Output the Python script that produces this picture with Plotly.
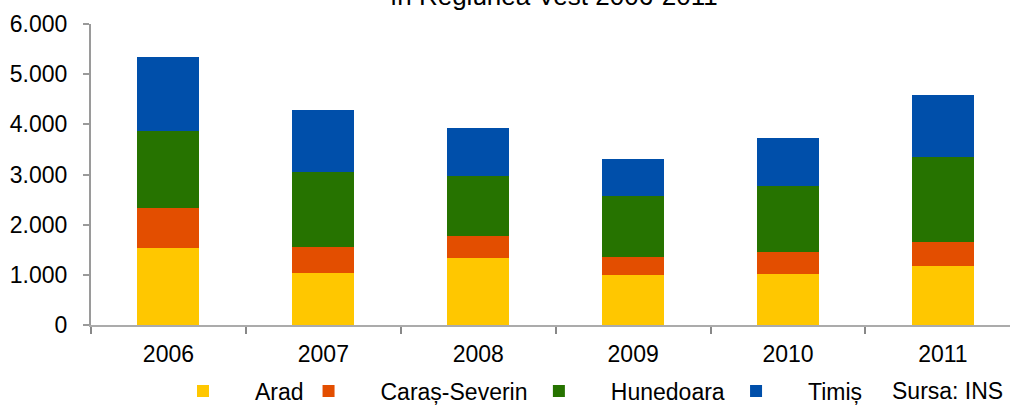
import plotly.graph_objects as go

years = ["2006", "2007", "2008", "2009", "2010", "2011"]
arad = [1530, 1035, 1330, 1000, 1010, 1170]
caras = [800, 520, 445, 355, 440, 490]
hunedoara = [1535, 1495, 1195, 1225, 1330, 1695]
timis = [1475, 1235, 955, 730, 950, 1230]

series_names = ["Arad", "Caraș-Severin\u00a0", "Hunedoara\u00a0", "Timiș"]
series_values = [arad, caras, hunedoara, timis]
colors = ["#FFC700", "#E34E00", "#267300", "#004FAA"]

FONT = "Liberation Sans, Arial, sans-serif"
FS = 23
pad = "\u00a0" * 5

W, H = 1010, 405
L, R, T, B = 91, 0, 24, 80
PH = H - T - B
PW = W - L - R

fig = go.Figure()
for name, vals, col in zip(series_names, series_values, colors):
    fig.add_trace(go.Bar(x=years, y=vals, name=pad + name,
                         marker=dict(color=col, line=dict(width=0)),
                         width=0.4))

fig.update_layout(
    width=W, height=H,
    barmode="stack",
    separators=",.",
    paper_bgcolor="white", plot_bgcolor="white",
    margin=dict(l=L, r=R, t=T, b=B, autoexpand=False),
    font=dict(family=FONT, size=FS, color="#000000"),
    showlegend=True,
    legend=dict(orientation="h", xref="container", yref="container",
                x=183 / W, xanchor="left", y=1 - 391 / H, yanchor="middle",
                traceorder="normal", font=dict(size=FS),
                bgcolor="rgba(0,0,0,0)", itemclick=False),
    xaxis=dict(type="category", range=[-0.5, 5.433],
               showline=True, linecolor="#ABABAB", linewidth=2,
               ticks="outside", tickson="boundaries", ticklen=7,
               tickcolor="#888888", tickwidth=2,
               ticklabelstandoff=7, showgrid=False, zeroline=False,
               tickfont=dict(size=FS)),
    yaxis=dict(range=[0, 6000], dtick=1000, tickformat=",d",
               showline=True, linecolor="#9A9A9A", linewidth=2,
               ticks="outside", ticklen=6, tickcolor="#9A9A9A", tickwidth=2,
               ticklabelstandoff=11, showgrid=False, zeroline=False,
               tickfont=dict(size=FS)),
    annotations=[
        dict(text="în Regiunea Vest 2006-2011", xref="paper", yref="paper",
             x=(553.5 - L) / PW, y=1 + (T + 4) / PH, xanchor="center", yanchor="middle",
             showarrow=False, font=dict(size=26)),
        dict(text="Sursa: INS", xref="paper", yref="paper",
             x=1 - 5 / PW, y=-(391 - (H - B)) / PH, xanchor="right", yanchor="middle",
             showarrow=False, font=dict(size=FS)),
    ],
)

fig.write_html("out.html",
               config={"displayModeBar": False},
               post_script="document.body.style.margin='0';document.body.style.overflow='hidden';")
